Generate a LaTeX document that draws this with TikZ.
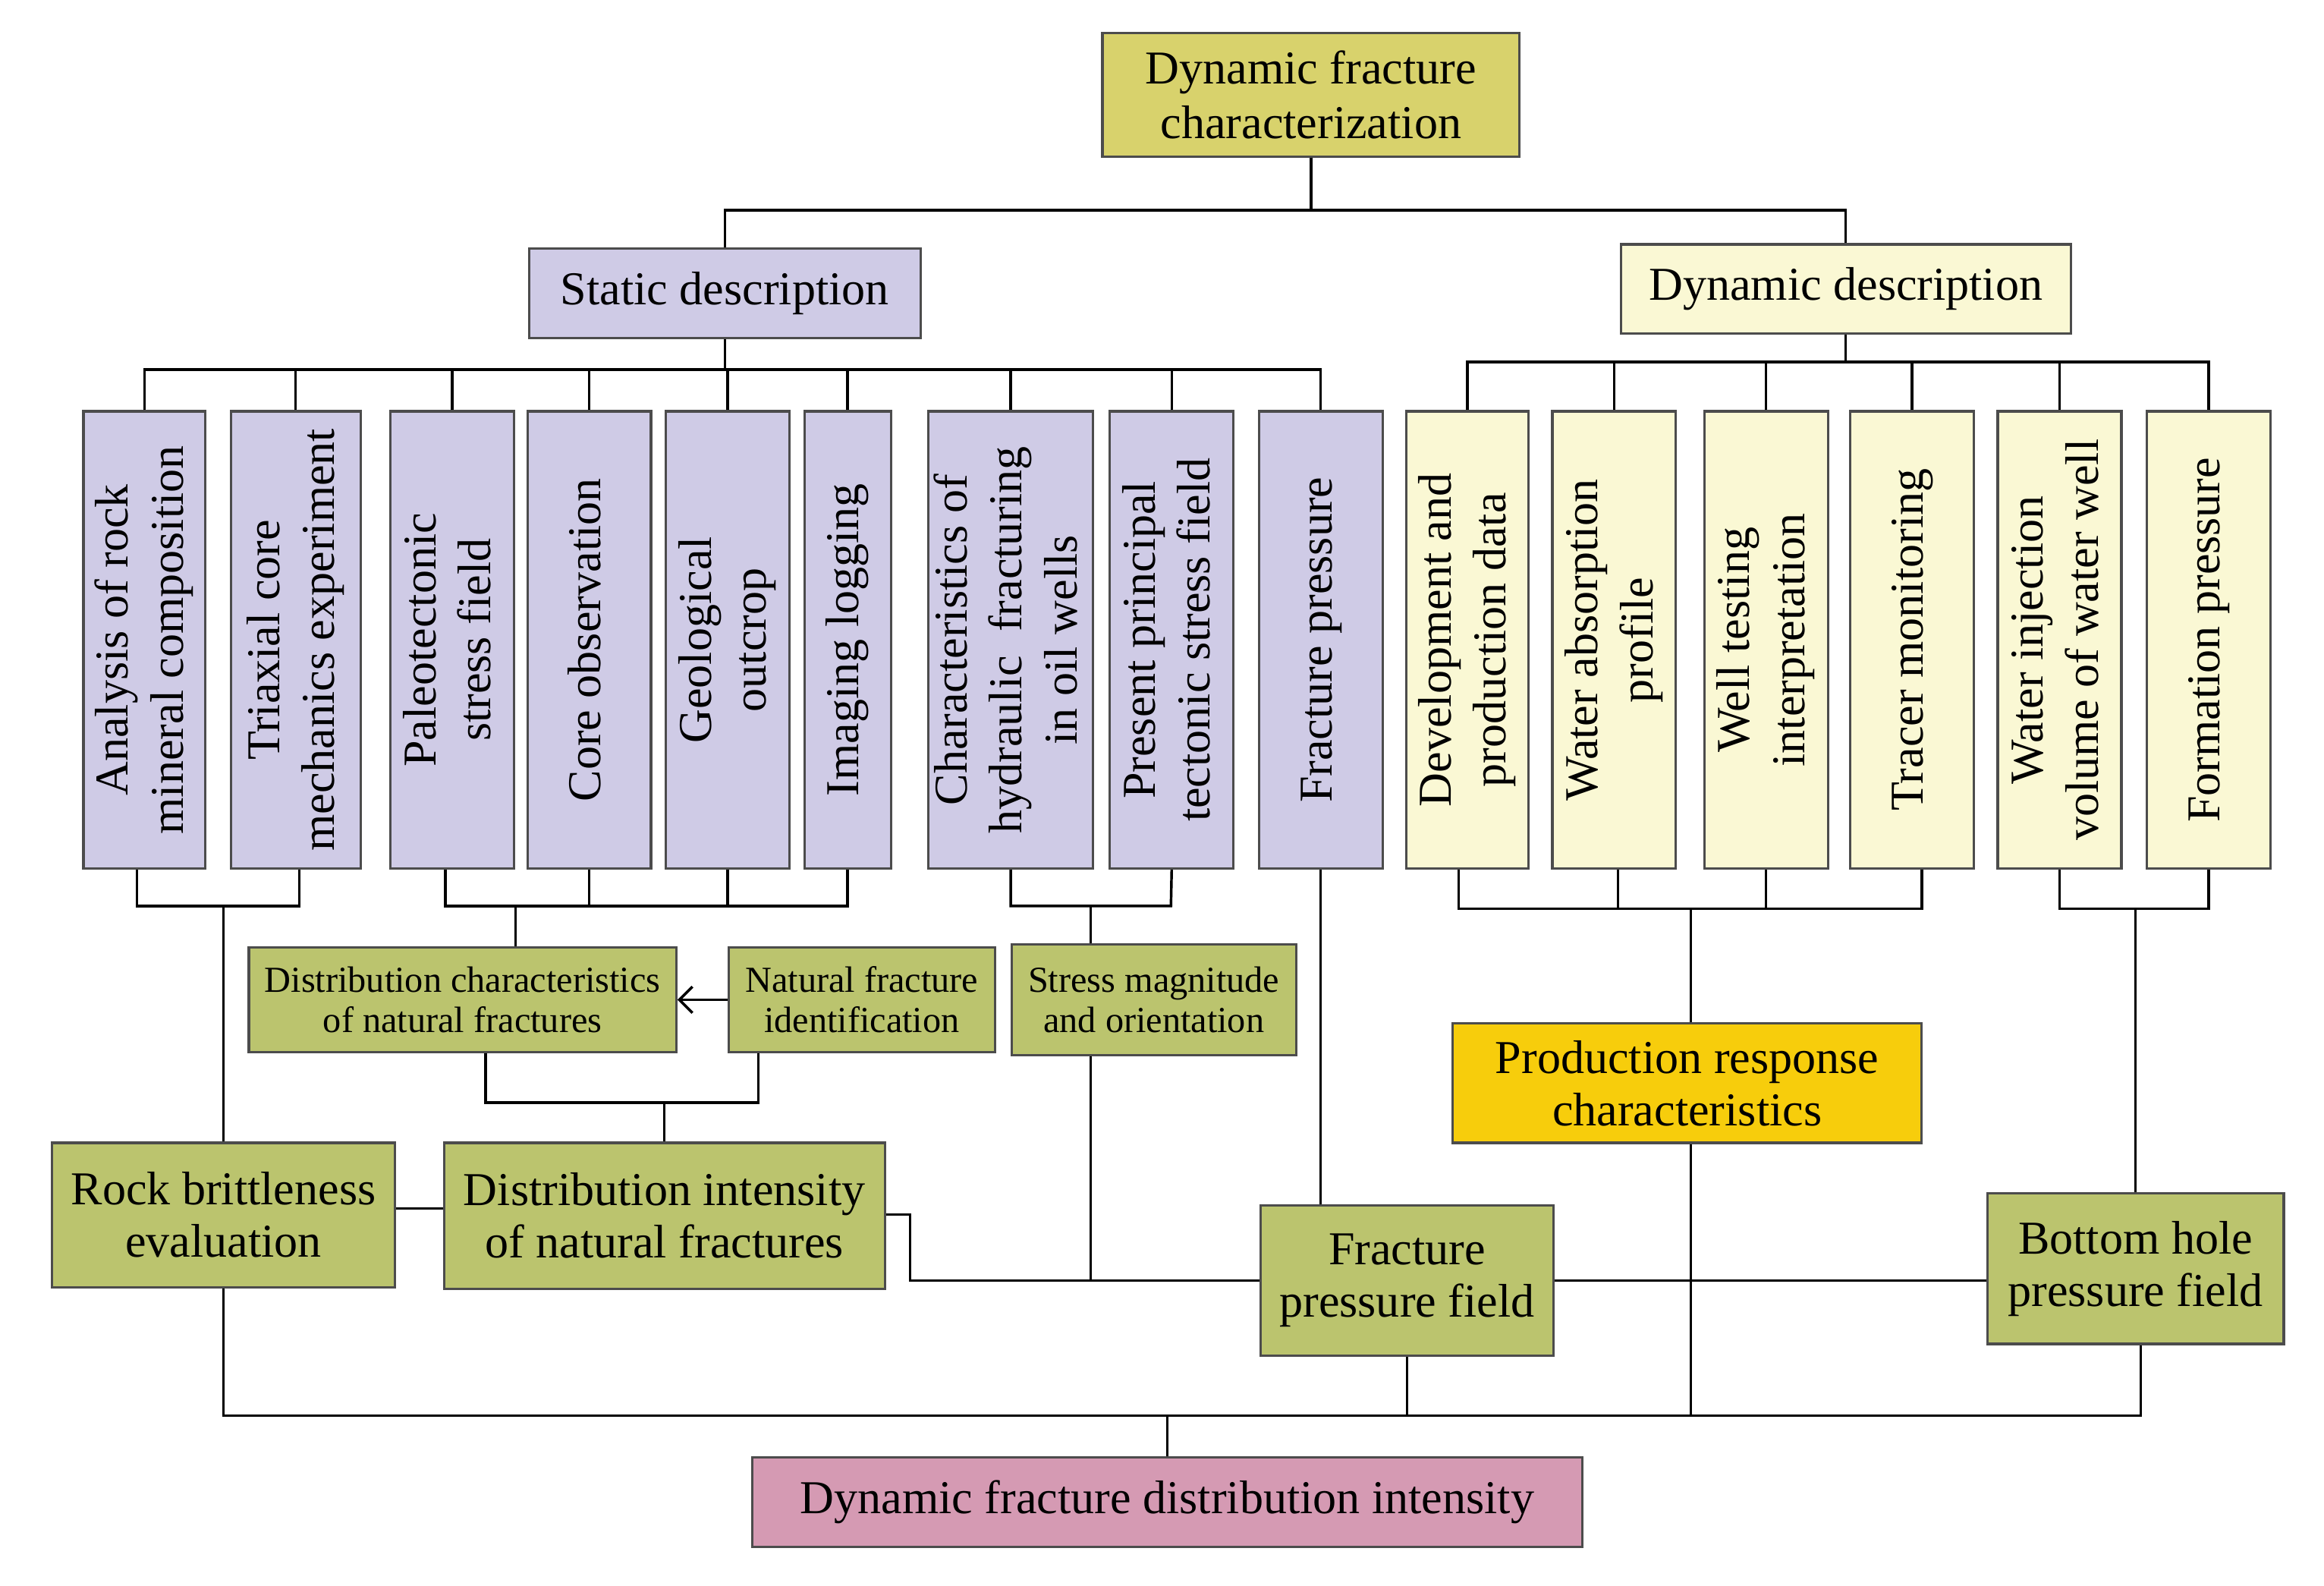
\documentclass[tikz,border=0pt]{standalone}
\usepackage{fontspec}
\setmainfont{Liberation Serif}
\usetikzlibrary{arrows.meta}
\definecolor{cTop}{HTML}{D8D26C}
\definecolor{cLav}{HTML}{CFCBE6}
\definecolor{cLy}{HTML}{FAF8D4}
\definecolor{cGr}{HTML}{BBC46E}
\definecolor{cPr}{HTML}{F7CD0C}
\definecolor{cPk}{HTML}{D59AB3}
\tikzset{
 box/.style={draw=black!70,line width=0.9pt,inner sep=0pt,align=center,font=\fontsize{18}{21}\selectfont},
 vb/.style={box,minimum height=6.14cm},
 sm/.style={box,font=\fontsize{14}{15.5}\selectfont,fill=cGr},
 bg/.style={box,font=\fontsize{18}{20}\selectfont,fill=cGr},
 ln/.style={line width=1pt,black}
}
\newcommand{\rt}[1]{\rotatebox{90}{\begin{tabular}{@{}c@{}}#1\end{tabular}}}
\begin{document}
\begin{tikzpicture}[x=0.02cm,y=-0.02cm]
\useasboundingbox (0,0) rectangle (1560,1064);
\node[box,fill=cTop,minimum width=5.6cm,minimum height=1.66cm] (top) at (880,63.5) {Dynamic fracture\\characterization};
\node[box,fill=cLav,minimum width=5.26cm,minimum height=1.2cm] (st) at (486.5,197) {Static description};
\node[box,fill=cLy,minimum width=6.04cm,minimum height=1.2cm] (dy) at (1239,194) {Dynamic description};
\node[vb,fill=cLav,minimum width=1.64cm] (v1) at (97,429.5) {\rt{Analysis of rock\\mineral composition}};
\node[vb,fill=cLav,minimum width=1.74cm] (v2) at (198.5,429.5) {\rt{Triaxial core\\mechanics experiment}};
\node[vb,fill=cLav,minimum width=1.66cm] (v3) at (303.5,429.5) {\rt{Paleotectonic\\stress field}};
\node[vb,fill=cLav,minimum width=1.66cm] (v4) at (395.5,429.5) {\rt{Core observation}};
\node[vb,fill=cLav,minimum width=1.66cm] (v5) at (488.5,429.5) {\rt{Geological\\outcrop}};
\node[vb,fill=cLav,minimum width=1.16cm] (v6) at (569,429.5) {\rt{Imaging logging}};
\node[vb,fill=cLav,minimum width=2.18cm] (v7) at (678.5,429.5) {\rt{Characteristics of\\hydraulic\ \ fracturing\\in oil wells}};
\node[vb,fill=cLav,minimum width=1.66cm] (v8) at (786.5,429.5) {\rt{Present principal\\tectonic stress field}};
\node[vb,fill=cLav,minimum width=1.66cm] (v9) at (886.5,429.5) {\rt{Fracture pressure}};
\node[vb,fill=cLy,minimum width=1.64cm] (w1) at (985,429.5) {\rt{Development and\\production data}};
\node[vb,fill=cLy,minimum width=1.66cm] (w2) at (1083.5,429.5) {\rt{Water absorption\\profile}};
\node[vb,fill=cLy,minimum width=1.66cm] (w3) at (1185.5,429.5) {\rt{Well testing\\interpretation}};
\node[vb,fill=cLy,minimum width=1.66cm] (w4) at (1283.5,429.5) {\rt{Tracer monitoring}};
\node[vb,fill=cLy,minimum width=1.66cm] (w5) at (1382.5,429.5) {\rt{Water injection\\volume of water well}};
\node[vb,fill=cLy,minimum width=1.66cm] (w6) at (1482.5,429.5) {\rt{Formation pressure}};
\node[sm,minimum width=5.74cm,minimum height=1.4cm] (dc) at (310.5,671) {Distribution characteristics\\of natural fractures};
\node[sm,minimum width=3.58cm,minimum height=1.4cm] (nf) at (578.5,671) {Natural fracture\\identification};
\node[sm,minimum width=3.82cm,minimum height=1.48cm] (sm) at (774.5,671) {Stress magnitude\\and orientation};
\node[bg,minimum width=4.6cm,minimum height=1.94cm] (rb) at (150,815.5) {Rock brittleness\\evaluation};
\node[bg,minimum width=5.92cm,minimum height=1.96cm] (di) at (446,816) {Distribution intensity\\of natural fractures};
\node[bg,minimum width=3.94cm,minimum height=2.02cm] (fp) at (944.5,859.5) {Fracture\\pressure field};
\node[bg,minimum width=3.98cm,minimum height=2.02cm] (bh) at (1433.5,851.5) {Bottom hole\\pressure field};
\node[box,fill=cPr,minimum width=6.3cm,minimum height=1.6cm,font=\fontsize{18}{20}\selectfont] (pr) at (1132.5,727) {Production response\\characteristics};
\node[box,fill=cPk,minimum width=11.14cm,minimum height=1.2cm] (bt) at (783.5,1008) {Dynamic fracture distribution intensity};
% top tree
\draw[ln] (top.south) -- (top.south |- 0,141);
\draw[ln] (st.north) |- (top.south |- 0,141) -| (dy.north);
\draw[ln] (st.south) -- (st.south |- 0,248);
\draw[ln] (v1.north) |- (v9.north |- 0,248) -- (v9.north);
\foreach \n in {v2,v3,v4,v5,v6,v7,v8} \draw[ln] (\n.north) -- (\n.north |- 0,248);
\draw[ln] (dy.south) -- (dy.south |- 0,243);
\draw[ln] (w1.north) |- (w6.north |- 0,243) -- (w6.north);
\foreach \n in {w2,w3,w4,w5} \draw[ln] (\n.north) -- (\n.north |- 0,243);
% lower brackets
\draw[ln] (92,0 |- v1.south) |- (201,608) -- (201,0 |- v2.south);
\draw[ln] (rb.north) -- (rb.north |- 0,608);
\draw[ln] (299,0 |- v3.south) |- (569,608) -- (v6.south);
\draw[ln] (v4.south) -- (v4.south |- 0,608);
\draw[ln] (v5.south) -- (v5.south |- 0,608);
\draw[ln] (346,0 |- dc.north) -- (346,608);
\draw[ln,-{Straight Barb[length=5pt]}] (nf.west) -- (dc.east);
\draw[ln] (326,0 |- dc.south) |- (509,740) -- (509,0 |- nf.south);
\draw[ln] (di.north) -- (di.north |- 0,740);
\draw[ln] (rb.east |- 0,811) -- (di.west |- 0,811);
\draw[ln] (v7.south) |- (786,608) -- (v8.south);
\draw[ln] (732,0 |- sm.north) -- (732,608);
\draw[ln] (732,0 |- sm.south) -- (732,859);
\draw[ln] (di.east |- 0,815) -- (611,815) |- (fp.west);
\draw[ln] (v9.south) -- (v9.south |- fp.north);
\draw[ln] (979,0 |- w1.south) |- (1290,610) -- (1290,0 |- w4.south);
\draw[ln] (1086,0 |- w2.south) -- (1086,610);
\draw[ln] (w3.south) -- (w3.south |- 0,610);
\draw[ln] (1135,0 |- pr.north) -- (1135,610);
\draw[ln] (w5.south) |- (w6.south |- 0,610) -- (w6.south);
\draw[ln] (bh.north) -- (bh.north |- 0,610);
\draw[ln] (fp.east) -- (fp.east -| bh.west);
\draw[ln] (1135,0 |- pr.south) -- (1135,950);
\draw[ln] (rb.south) |- (1437,950) -- (1437,0 |- bh.south);
\draw[ln] (fp.south) -- (fp.south |- 0,950);
\draw[ln] (bt.north) -- (bt.north |- 0,950);
\end{tikzpicture}
\end{document}
